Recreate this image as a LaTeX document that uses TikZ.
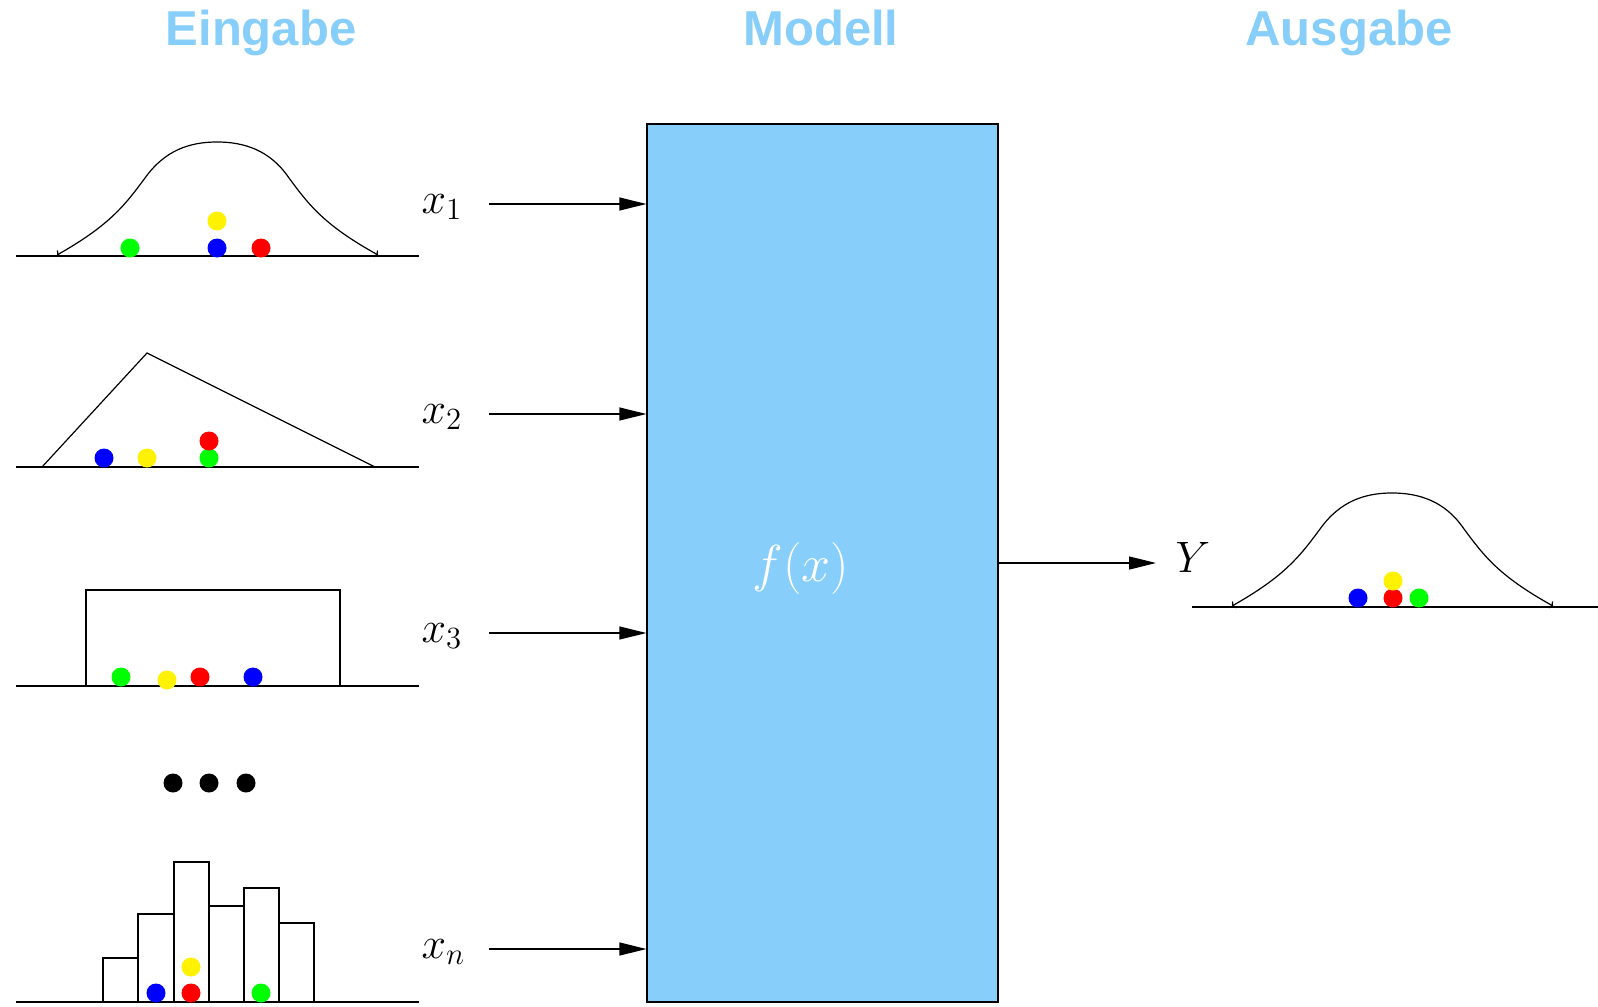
\RequirePackage{fix-cm}
\documentclass[tikz,border=0pt]{standalone}
\usepackage{fontspec}
\newfontfamily\titlefont{Liberation Sans}
\usetikzlibrary{arrows.meta}
\definecolor{skyblue}{RGB}{135,206,250}

\begin{document}
\begin{tikzpicture}[x=0.5pt, y=-0.5pt, line width=0.6pt, >={Triangle[length=13.5pt, width=6.5pt]},
	title/.style={text=skyblue, anchor=base, font=\titlefont\bfseries\fontsize{24.5}{28}\selectfont},
	var/.style={anchor=base west, inner sep=0pt, font=\fontsize{22}{26}\selectfont},
	ball/.style={circle, inner sep=0pt, minimum size=9.5pt},
	hook/.style={{To[length=1.5pt, width=4pt]}-{To[length=1.5pt, width=4pt]}}]

		\useasboundingbox (0,0) rectangle (1598,1006);

		% titles
		\node[title] (eingabe) at (261,46) {Eingabe};
		\node[title] (modell) at (821,46) {Modell};
		\node[title] (ausgabe) at (1349,46) {Ausgabe};

		% model
		\node[draw, fill=skyblue, minimum width=175.5pt, minimum height=439pt, inner sep=0pt] (model) at (822.5,563) {};
		\node[text=white, inner sep=0pt, font=\fontsize{26}{30}\selectfont] (fx) at (801,568) {$f(x)$};

		% inputs
		\node[var] (x1) at (421,213) {$x_1$};
		\node[var] (x2) at (421,423) {$x_2$};
		\node[var] (x3) at (421,642) {$x_3$};
		\node[var] (xn) at (421,958) {$x_n$};
		\coordinate (s1) at (489,204);
		\coordinate (s2) at (489,414);
		\coordinate (s3) at (489,633);
		\coordinate (sn) at (489,949);
		\foreach \s in {s1,s2,s3,sn}
			\draw[->] (\s) -- (\s -| model.west);

		% output
		\node[var] (y) at (1175,572) {$Y$};
		\coordinate (out) at (1156,563);
		\draw[->] (model.east |- out) -- (out);

		% baselines
		\draw (16,256) -- (419,256);
		\draw (16,467) -- (419,467);
		\draw (16,686) -- (419,686);
		\draw (16,1002) -- (419,1002);
		\draw (1192,607) -- (1598,607);

		% bell curves
		\foreach \dx/\dy in {0/0, 1175/351}
			\draw[hook, shift={(\dx,\dy)}] (57,255) .. controls (110,225) and (125,205) .. (145,178)
				.. controls (165,150) and (190,142) .. (217,142)
				.. controls (244,142) and (270,150) .. (289,178)
				.. controls (309,205) and (324,225) .. (378,255);

		% triangle
		\draw (42,467) -- (147,353) -- (375,467);

		% uniform
		\draw (86,686) -- (86,590) -- (340,590) -- (340,686);

		% histogram
		\foreach \a/\b/\h in {103/138/958, 138/174/914, 174/209/862, 209/244/906, 244/279/888, 279/314/923}
			\draw (\a,1002) rectangle (\b,\h);

		% balls
		\foreach \x/\y/\c in {130/248/green, 217/248/blue, 217/221/yellow, 261/248/red,
				104/458/blue, 147/458/yellow, 209/458/green, 209/441/red,
				121/677/green, 167/680/yellow, 200/677/red, 253/677/blue,
				156/993/blue, 191/993/red, 191/967/yellow, 261/993/green,
				1358/598/blue, 1393/598/red, 1419/598/green, 1393/581/yellow,
				173/783/black, 209/783/black, 246/783/black}
			\node[ball, fill=\c] at (\x,\y) {};

\end{tikzpicture}
\end{document}
